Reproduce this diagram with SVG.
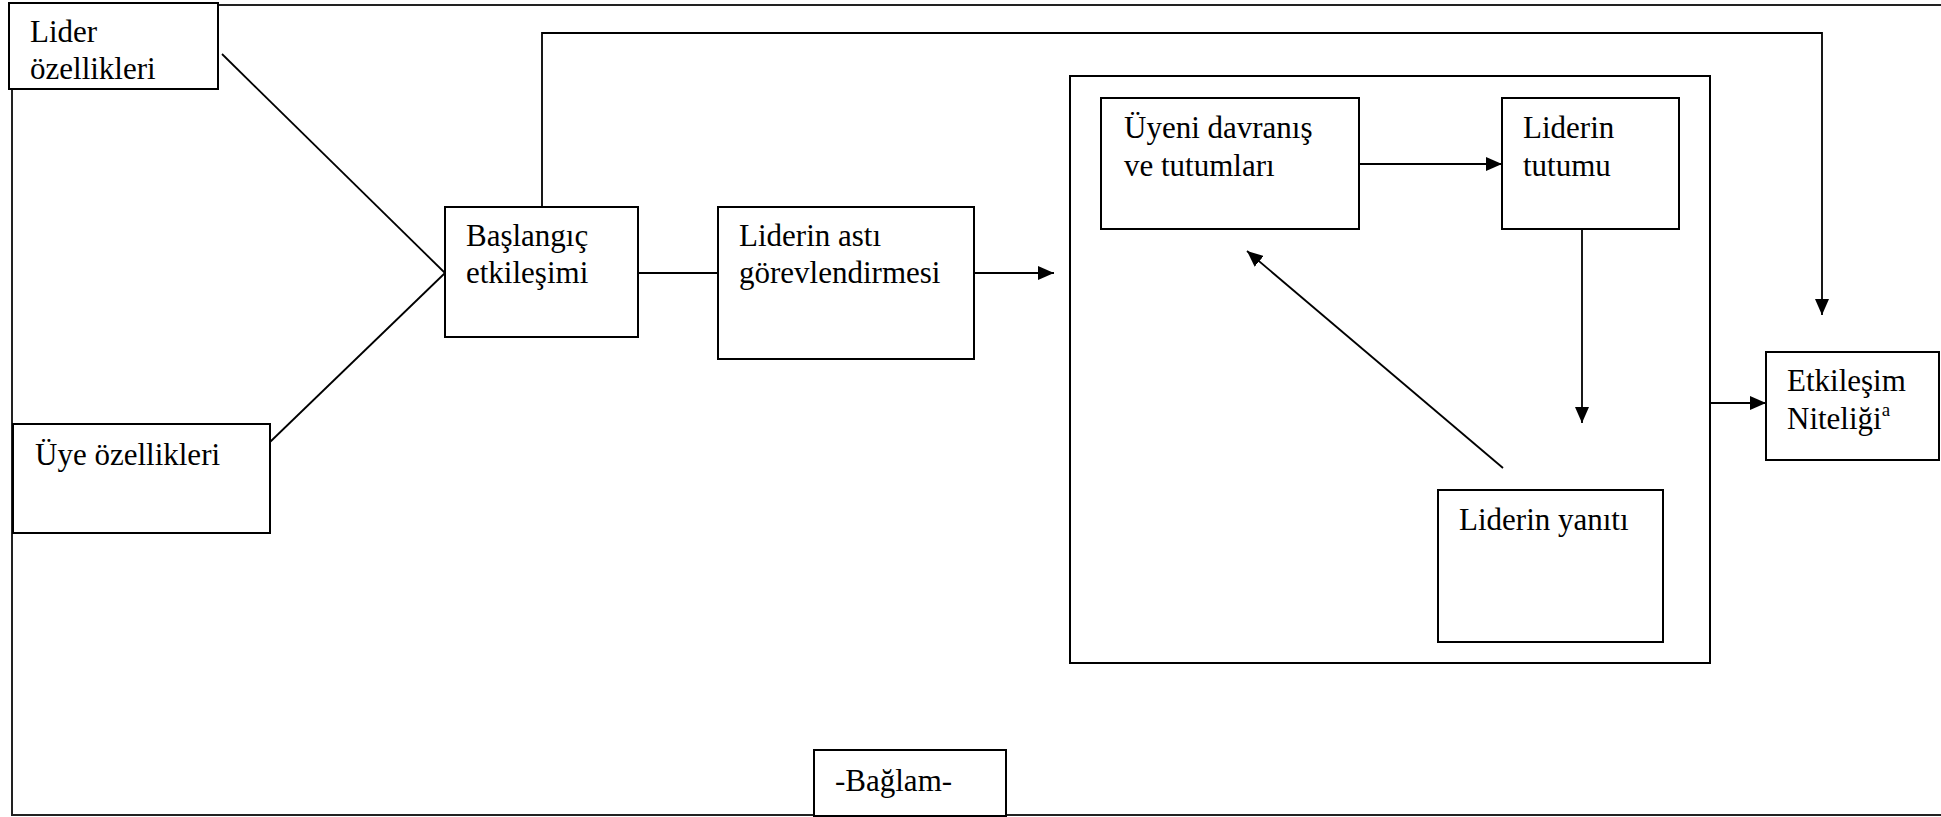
<svg xmlns="http://www.w3.org/2000/svg" width="1941" height="817" viewBox="0 0 1941 817">
  <style>
    .box { fill: #fff; stroke: #000; stroke-width: 2; }
    .frame { fill: none; stroke: #222; stroke-width: 2; }
    .conn { fill: none; stroke: #000; stroke-width: 1.8; }
    text { font-family: 'Liberation Serif', 'Times New Roman', Tinos, 'DejaVu Serif', serif; font-size: 31px; fill: #000; }
  </style>
  <defs>
    <marker id="arr" markerUnits="userSpaceOnUse" markerWidth="16" markerHeight="14" refX="16" refY="7" orient="auto">
      <path d="M0,0 L16,7 L0,14 z" fill="#000"/>
    </marker>
  </defs>
  <rect width="1941" height="817" fill="#fff"/>
  <g id="context-frame">
    <rect class="frame" x="12" y="5" width="1940" height="810"/>
  </g>
  <g id="connectors">
    <line class="conn" x1="222" y1="54" x2="445" y2="273"/>
    <line class="conn" x1="270" y1="442" x2="445" y2="273"/>
    <line class="conn" x1="638" y1="273" x2="718" y2="273"/>
    <line class="conn" x1="974" y1="273" x2="1054" y2="273" marker-end="url(#arr)"/>
    <path class="conn" d="M542,207 V33 H1822 V315" marker-end="url(#arr)"/>
    <line class="conn" x1="1325" y1="164" x2="1502" y2="164" marker-end="url(#arr)"/>
    <line class="conn" x1="1582" y1="229" x2="1582" y2="423" marker-end="url(#arr)"/>
    <line class="conn" x1="1503" y1="468" x2="1247" y2="251" marker-end="url(#arr)"/>
    <line class="conn" x1="1710" y1="403" x2="1766" y2="403" marker-end="url(#arr)"/>
  </g>
  <g id="lider-ozellikleri" font-family="Liberation Serif, serif">
    <rect class="box" x="9" y="3" width="209" height="86"/>
    <text x="30" y="42">Lider</text>
    <text x="30" y="79">özellikleri</text>
  </g>
  <g id="uye-ozellikleri">
    <rect class="box" x="13" y="424" width="257" height="109"/>
    <text x="35" y="465">Üye özellikleri</text>
  </g>
  <g id="baslangic-etkilesimi">
    <rect class="box" x="445" y="207" width="193" height="130"/>
    <text x="466" y="246">Başlangıç</text>
    <text x="466" y="283">etkileşimi</text>
  </g>
  <g id="liderin-asti">
    <rect class="box" x="718" y="207" width="256" height="152"/>
    <text x="739" y="246">Liderin astı</text>
    <text x="739" y="283">görevlendirmesi</text>
  </g>
  <g id="dongu">
    <rect class="box" x="1070" y="76" width="640" height="587" style="fill:none"/>
  </g>
  <g id="uyeni-davranis">
    <rect class="box" x="1101" y="98" width="258" height="131"/>
    <text x="1124" y="138">Üyeni davranış</text>
    <text x="1124" y="176">ve tutumları</text>
  </g>
  <g id="liderin-tutumu">
    <rect class="box" x="1502" y="98" width="177" height="131"/>
    <text x="1523" y="138">Liderin</text>
    <text x="1523" y="176">tutumu</text>
  </g>
  <g id="liderin-yaniti">
    <rect class="box" x="1438" y="490" width="225" height="152"/>
    <text x="1459" y="530">Liderin yanıtı</text>
  </g>
  <g id="etkilesim-niteligi">
    <rect class="box" x="1766" y="352" width="173" height="108"/>
    <text x="1787" y="391">Etkileşim</text>
    <text x="1787" y="429">Niteliği<tspan font-size="19" dy="-13">a</tspan></text>
  </g>
  <g id="baglam">
    <rect class="box" x="814" y="750" width="192" height="66"/>
    <text x="835" y="791">-Bağlam-</text>
  </g>
</svg>
